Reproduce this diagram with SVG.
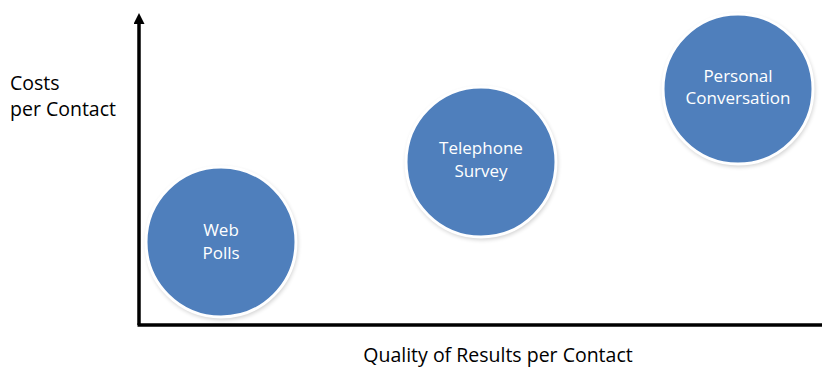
<svg xmlns="http://www.w3.org/2000/svg" width="824" height="370" viewBox="0 0 824 370">
<style>
.lbl{font-family:"Open Sans","DejaVu Sans",sans-serif;font-size:19.5px;fill:#000}
.ctext{font-family:"Open Sans","DejaVu Sans",sans-serif;font-size:17px;fill:#fff;text-anchor:middle}
.bub{fill:#4f7fbc;stroke:#fff;stroke-width:3}
.shadow{fill:#000;opacity:0.18}
.axis{stroke:#000;stroke-width:3.5;fill:none}
</style>
<defs>
<marker id="ah" markerWidth="11" markerHeight="11" refX="1" refY="5.5" orient="auto" markerUnits="userSpaceOnUse">
<path d="M0,0 L11,5.5 L0,11 z" fill="#000"/>
</marker>
<filter id="blur" x="-20%" y="-20%" width="140%" height="140%"><feGaussianBlur stdDeviation="2"/></filter>
</defs>
<g id="connectors">
<line class="axis" x1="139" y1="325" x2="139" y2="23" marker-end="url(#ah)"/>
<line class="axis" x1="137.5" y1="325" x2="822" y2="325"/>
</g>
<g id="axis-labels">
<text class="lbl" x="10" y="90">Costs</text>
<text class="lbl" x="10" y="116">per Contact</text>
<text class="lbl" x="498" y="362" text-anchor="middle">Quality of Results per Contact</text>
</g>
<g id="web-polls">
<circle class="shadow" cx="222" cy="244" r="76" filter="url(#blur)"/>
<circle class="bub" cx="221" cy="242" r="75"/>
<text class="ctext" x="221" y="236">Web</text>
<text class="ctext" x="221" y="259">Polls</text>
</g>
<g id="telephone-survey">
<circle class="shadow" cx="482" cy="164" r="76" filter="url(#blur)"/>
<circle class="bub" cx="481" cy="162" r="75"/>
<text class="ctext" x="481" y="154">Telephone</text>
<text class="ctext" x="481" y="177">Survey</text>
</g>
<g id="personal-conversation">
<circle class="shadow" cx="739" cy="91" r="76" filter="url(#blur)"/>
<circle class="bub" cx="738" cy="89" r="75"/>
<text class="ctext" x="738" y="82">Personal</text>
<text class="ctext" x="738" y="104">Conversation</text>
</g>
</svg>
